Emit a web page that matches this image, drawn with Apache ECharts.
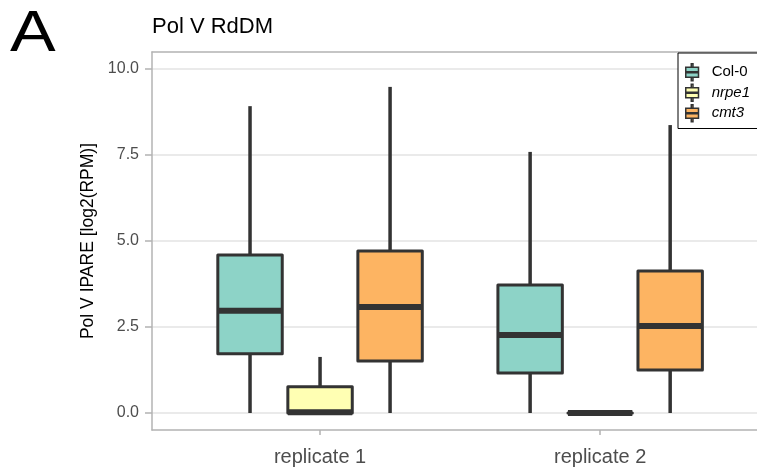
<!DOCTYPE html>
<html><head><meta charset="utf-8">
<script src="https://cdn.jsdelivr.net/npm/echarts@6/dist/echarts.min.js"></script>
<style>html,body{margin:0;padding:0;background:#fff}#c{width:757px;height:471px}</style>
</head><body><div id="c"></div>
<script>
// ---- data ----
const categories = ['replicate 1', 'replicate 2'];
const groups = ['Col-0', 'nrpe1', 'cmt3'];
const colors = ['#8DD3C7', '#FFFFB3', '#FDB462'];
// each entry: [min, Q1, median, Q3, max] for replicate 1, replicate 2
const col0 = [[0, 1.72, 2.97, 4.59, 8.92], [0, 1.16, 2.27, 3.72, 7.59]];
const nrpe1 = [[0, 0, 0.02, 0.76, 1.63], [0, 0, 0, 0, 0]];
const cmt3 = [[0, 1.51, 3.08, 4.71, 9.48], [0, 1.25, 2.53, 4.13, 8.37]];
const yTicks = [0, 2.5, 5, 7.5, 10];
const italicGroups = ['nrpe1', 'cmt3'];

const groupData = [col0, nrpe1, cmt3];
const DODGE = 0.25;   // spacing between dodged boxes (category units)
const BOX_W = 0.23;   // box width (category units)
const X_MIN = 0.4, X_MAX = 2.56; // visible part of the discrete axis (panel is cropped on the right)
const FONT = '"Liberation Sans", Arial, sans-serif';
const STROKE = '#333333';
const PANEL = '#b3b3b3';

function renderBox(params, api) {
  const x = api.value(0);
  const pMin = api.coord([x, api.value(1)]);
  const pQ1 = api.coord([x, api.value(2)]);
  const pMd = api.coord([x, api.value(3)]);
  const pQ3 = api.coord([x, api.value(4)]);
  const pMax = api.coord([x, api.value(5)]);
  const w = api.size([BOX_W, 0])[0];
  const cx = pMax[0];
  return {
    type: 'group',
    children: [
      { type: 'line', shape: { x1: cx, y1: pMax[1], x2: cx, y2: pQ3[1] }, style: { stroke: STROKE, lineWidth: 3.5 } },
      { type: 'line', shape: { x1: cx, y1: pQ1[1], x2: cx, y2: pMin[1] }, style: { stroke: STROKE, lineWidth: 3.5 } },
      { type: 'rect', shape: { x: cx - w / 2, y: pQ3[1], width: w, height: pQ1[1] - pQ3[1] },
        style: { fill: api.visual('color'), stroke: STROKE, lineWidth: 3, lineJoin: 'round' } },
      { type: 'line', shape: { x1: cx - w / 2, y1: pMd[1], x2: cx + w / 2, y2: pMd[1] },
        style: { stroke: STROKE, lineWidth: 6, lineCap: 'butt' } }
    ]
  };
}

const series = groups.map((g, i) => ({
  name: g,
  type: 'custom',
  xAxisIndex: 1,
  yAxisIndex: 1,
  renderItem: renderBox,
  itemStyle: { color: colors[i] },
  encode: { x: 0, y: [1, 2, 3, 4, 5] },
  data: groupData[i].map((d, j) => [j + 1 + (i - 1) * DODGE].concat(d))
}));

const legendIcon = 'path://M6.5,0h2v4h-2zM0,4h15v5.4h-15zM0,10.6h15v5.4h-15zM6.5,16h2v4h-2z';
const panelLine = { show: true, onZero: false, lineStyle: { color: PANEL, width: 1.5 } };

const option = {
  animation: false,
  backgroundColor: '#fff',
  textStyle: { fontFamily: FONT },
  title: [
    { text: 'Pol V RdDM', left: 147, top: 11, textStyle: { fontSize: 22, fontWeight: 'normal', color: '#000', fontFamily: FONT } }
  ],
  graphic: [
    { type: 'text', x: 10, y: 6, scaleX: 1.18, scaleY: 1,
      style: { text: 'A', font: '58px "Liberation Sans", Arial, sans-serif', fill: '#000', verticalAlign: 'top', align: 'left' } }
  ],
  legend: {
    orient: 'vertical',
    left: 678, top: 53,
    data: groups,
    icon: legendIcon,
    itemWidth: 15, itemHeight: 17,
    itemGap: 2,
    padding: [10, 10, 6, 7],
    borderColor: '#000', borderWidth: 1,
    backgroundColor: '#fff',
    itemStyle: { borderColor: STROKE, borderWidth: 1.5 },
    formatter: n => italicGroups.includes(n) ? '{i|' + n + '}' : n,
    textStyle: {
      fontSize: 15, color: '#000', fontFamily: FONT, padding: [0, 0, 0, 7],
      rich: { i: { fontStyle: 'italic', fontSize: 15, color: '#000', fontFamily: FONT } }
    }
  },
  grid: [
    { left: 152, top: 52, right: 0, height: 378, show: false },
    { left: 152, top: 69, right: 0, height: 344 }
  ],
  xAxis: [
    {
      gridIndex: 0, type: 'value', min: X_MIN, max: X_MAX, position: 'bottom',
      axisLine: panelLine, splitLine: { show: false },
      axisTick: { show: true, customValues: [1, 2], length: 5, lineStyle: { color: PANEL, width: 1.5 } },
      axisLabel: { customValues: [1, 2], formatter: v => categories[Math.round(v) - 1], fontSize: 20, color: '#4d4d4d', margin: 17, fontFamily: FONT }
    },
    { gridIndex: 1, type: 'value', min: X_MIN, max: X_MAX, show: false },
    {
      gridIndex: 0, type: 'value', min: X_MIN, max: X_MAX, position: 'top',
      axisLine: panelLine, axisTick: { show: false }, axisLabel: { show: false }, splitLine: { show: false }
    }
  ],
  yAxis: [
    {
      gridIndex: 0, type: 'value', min: -0.5, max: 10.5, position: 'left',
      axisLine: panelLine, axisTick: { show: false }, axisLabel: { show: false }, splitLine: { show: false }
    },
    {
      gridIndex: 1, type: 'value', min: 0, max: 10, interval: 2.5,
      name: 'Pol V IPARE [log2(RPM)]', nameLocation: 'middle', nameGap: 50,
      nameTextStyle: { fontSize: 17.5, color: '#000', fontFamily: FONT },
      axisLine: { show: false },
      axisTick: { show: true, length: 7, lineStyle: { color: PANEL, width: 1.5 } },
      axisLabel: { formatter: v => v.toFixed(1), fontSize: 16, color: '#4d4d4d', margin: 13, fontFamily: FONT },
      splitLine: { lineStyle: { color: '#e3e3e3', width: 1.5 } }
    }
  ],
  series: series
};

const chart = echarts.init(document.getElementById('c'), null, { renderer: 'canvas' });
chart.setOption(option);
</script>
</body></html>
